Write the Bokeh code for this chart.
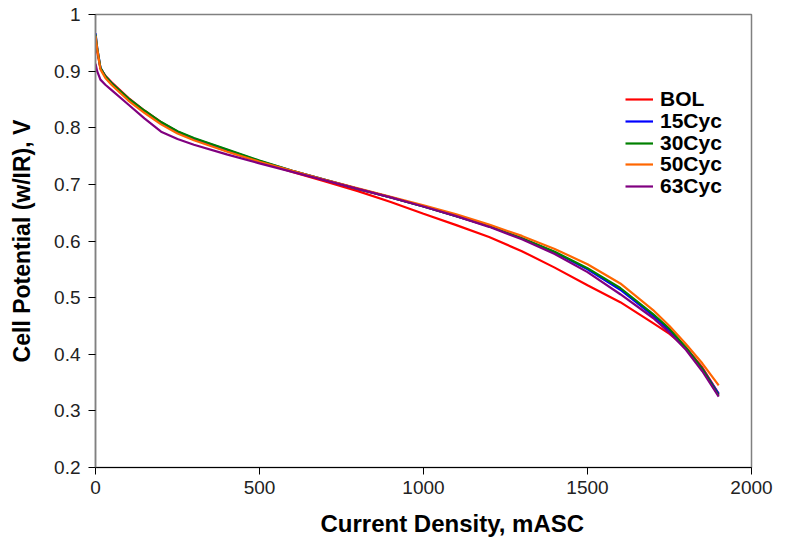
from bokeh.plotting import figure
from bokeh.models import Range1d, FixedTicker, Legend, LegendItem, Title
from bokeh.embed import file_html
from bokeh.resources import INLINE

# Polarization curves: current density (mA/cm2) vs IR-free cell potential (V)
current = [0, 5, 15, 30, 50, 100, 150, 200, 250, 300, 400, 500, 600, 700, 800,
           900, 1000, 1100, 1200, 1300, 1400, 1500, 1600, 1700, 1750, 1800, 1850, 1900]

bol = [0.955, 0.935, 0.905, 0.892, 0.880, 0.853, 0.830, 0.810, 0.793, 0.780, 0.759,
       0.740, 0.722, 0.705, 0.688, 0.669, 0.648, 0.628, 0.607, 0.582, 0.553, 0.522,
       0.492, 0.455, 0.436, 0.412, 0.377, 0.330]
cyc15 = [0.967, 0.942, 0.906, 0.891, 0.878, 0.851, 0.829, 0.809, 0.793, 0.781, 0.761,
         0.741, 0.724, 0.708, 0.692, 0.677, 0.661, 0.644, 0.626, 0.605, 0.580, 0.550,
         0.514, 0.468, 0.442, 0.411, 0.374, 0.330]
cyc30 = [0.965, 0.941, 0.906, 0.891, 0.878, 0.852, 0.830, 0.810, 0.794, 0.782, 0.762,
         0.742, 0.724, 0.708, 0.692, 0.677, 0.661, 0.644, 0.626, 0.605, 0.581, 0.552,
         0.517, 0.471, 0.445, 0.412, 0.374, 0.327]
cyc50 = [0.962, 0.940, 0.903, 0.888, 0.875, 0.848, 0.826, 0.806, 0.790, 0.778, 0.758,
         0.740, 0.724, 0.708, 0.693, 0.678, 0.663, 0.647, 0.629, 0.609, 0.586, 0.559,
         0.525, 0.478, 0.450, 0.418, 0.384, 0.345]
cyc63 = [0.913, 0.900, 0.885, 0.876, 0.866, 0.841, 0.816, 0.793, 0.780, 0.770, 0.753,
         0.737, 0.722, 0.707, 0.692, 0.677, 0.661, 0.644, 0.625, 0.603, 0.577, 0.545,
         0.506, 0.464, 0.438, 0.408, 0.370, 0.325]

series_names = ["BOL", "15Cyc", "30Cyc", "50Cyc", "63Cyc"]
series_values = [bol, cyc15, cyc30, cyc50, cyc63]
series_colors = ["#FF0000", "#0000FF", "#008000", "#FF6600", "#800080"]

x_ticks = [0, 500, 1000, 1500, 2000]
y_ticks = [0.2, 0.3, 0.4, 0.5, 0.6, 0.7, 0.8, 0.9, 1.0]
x_title = "Current Density, mASC"
y_title = "Cell Potential (w/IR), V"

FONT = "Liberation Sans"

p = figure(width=791, height=548, output_backend="svg", toolbar_location=None,
           x_range=Range1d(0, 2000), y_range=Range1d(0.2, 1.0),
           min_border_left=95, min_border_right=40, min_border_top=14,
           min_border_bottom=81)
p.background_fill_color = "white"
p.border_fill_color = "white"
p.outline_line_color = "#808080"
p.outline_line_width = 1.5
p.xgrid.visible = False
p.ygrid.visible = False

renderers = []
for vals, col in zip(series_values, series_colors):
    renderers.append(p.line(current, vals, line_color=col, line_width=2.2))

# one legend entry per row, stacked with a tight 21.75 px pitch
row_offsets = [356, 334, 312, 291, 269]
for name, r, off in zip(series_names, renderers, row_offsets):
    lg = Legend(items=[LegendItem(label=name, renderers=[r])], location=(530, off),
                border_line_alpha=0, background_fill_alpha=0, label_text_font=FONT,
                label_text_font_style="bold", label_text_font_size="21px",
                label_text_color="#000000", glyph_width=28, glyph_height=20,
                label_height=20, spacing=0, padding=0, margin=0,
                label_standoff=7)
    p.add_layout(lg)

for ax in (p.xaxis[0], p.yaxis[0]):
    ax.major_label_text_font = FONT
    ax.major_label_text_font_size = "19px"
    ax.major_label_text_color = "#222222"
    ax.axis_label_text_font = FONT
    ax.axis_label_text_font_style = "bold"
    ax.axis_label_text_font_size = "23px"
    ax.axis_label_text_color = "#000000"
    ax.minor_tick_line_color = None
    ax.major_tick_in = 0
    ax.major_tick_out = 7

p.xaxis.ticker = FixedTicker(ticks=x_ticks)
p.yaxis.ticker = FixedTicker(ticks=y_ticks)
p.yaxis.major_label_overrides = {0.2: "0.2", 0.3: "0.3", 0.4: "0.4", 0.5: "0.5",
                                 0.6: "0.6", 0.7: "0.7", 0.8: "0.8", 0.9: "0.9", 1.0: "1"}
p.yaxis.axis_label = y_title
p.xaxis.axis_line_color = "#000000"
p.xaxis.major_tick_line_color = "#000000"
p.yaxis.axis_line_color = "#808080"
p.yaxis.major_tick_line_color = "#000000"
p.yaxis.axis_line_width = 1.5
p.xaxis.major_label_standoff = 6
p.yaxis.major_label_standoff = 8
p.yaxis.axis_label_standoff = 16

# x-axis title, set a little right of the frame centre
p.add_layout(Title(text=x_title, align="left", offset=225, standoff=23,
                   text_font=FONT, text_font_style="bold", text_font_size="24px",
                   text_color="#000000"), "below")

open("out.html", "w").write(file_html(p, INLINE))
